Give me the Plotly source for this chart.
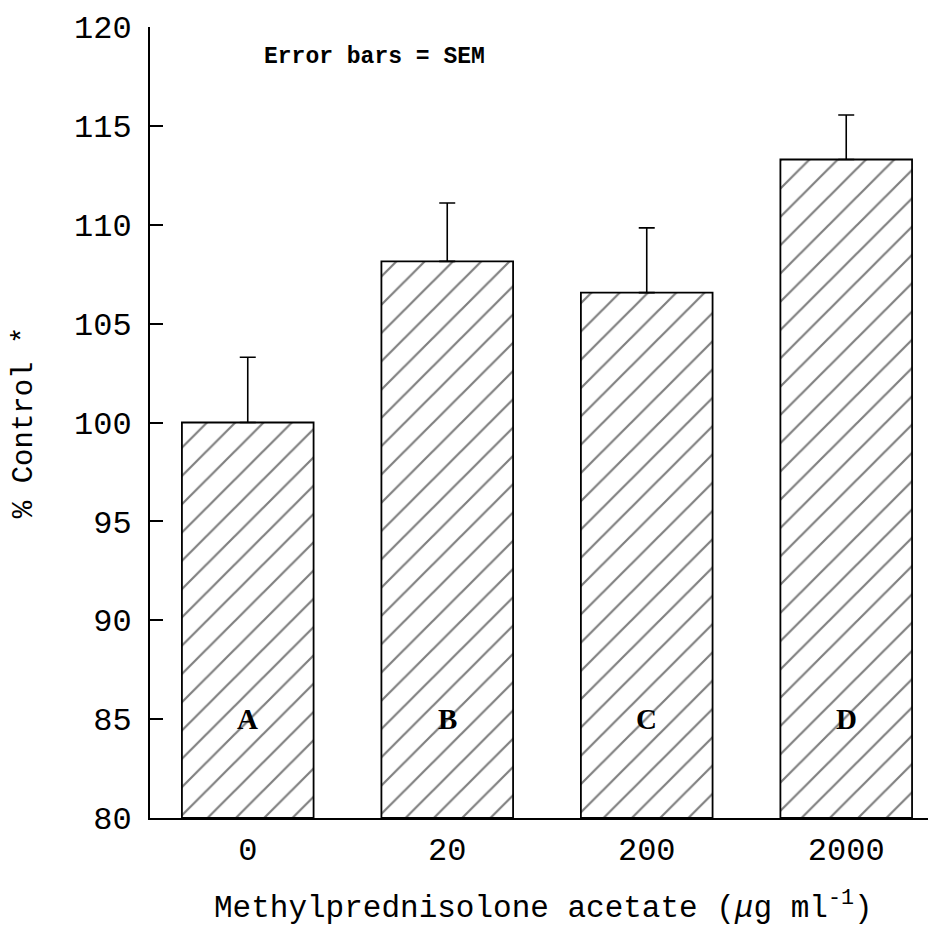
import plotly.graph_objects as go

# data
doses = ["0", "20", "200", "2000"]
group_labels = ["A", "B", "C", "D"]
pct_control = [100.0, 108.15, 106.57, 113.3]
sem = [3.3, 2.95, 3.27, 2.25]

MONO = "Liberation Mono, Courier New, monospace"
SERIF = "Liberation Serif, Times New Roman, serif"

pos = list(range(len(doses)))

fig = go.Figure()

fig.add_trace(go.Bar(
    x=pos,
    y=[v - 80 for v in pct_control],  # bars start at the axis floor (80)
    base=80,
    width=0.66,
    marker=dict(
        color="white",
        line=dict(color="black", width=1.8),
        pattern=dict(shape="/", size=20, solidity=0.11,
                     fgcolor="black", bgcolor="white"),
    ),
    error_y=dict(type="data", symmetric=False, array=sem,
                 arrayminus=[0] * len(sem), color="black",
                 thickness=1.6, width=8),
    showlegend=False,
))

# group letters inside the bars
for p, lab in zip(pos, group_labels):
    fig.add_annotation(x=p, y=85, text="<b>" + lab + "</b>", showarrow=False,
                       font=dict(family=SERIF, size=29, color="black"))

fig.add_annotation(x=0.285, y=0.962, xref="paper", yref="paper",
                   xanchor="center", yanchor="middle",
                   text="<b>Error bars = SEM</b>", showarrow=False,
                   font=dict(family=MONO, size=23, color="black"))

# axis titles as annotations so they sit where the original has them
fig.add_annotation(x=0.5, y=-0.111, xref="paper", yref="paper",
                   xanchor="center", yanchor="middle", showarrow=False,
                   text="Methylprednisolone acetate (<i>μ</i>g ml<sup>-1</sup>)",
                   font=dict(family=MONO, size=31, color="black"))
fig.add_annotation(x=-0.1595, y=0.5, xref="paper", yref="paper",
                   xanchor="center", yanchor="middle", showarrow=False,
                   textangle=-90, text="% Control *",
                   font=dict(family=MONO, size=29, color="black"))

fig.update_xaxes(
    range=[-0.49, 3.45],
    tickvals=pos, ticktext=doses,
    showline=True, linecolor="black", linewidth=1.8,
    ticks="", showgrid=False, zeroline=False, automargin=False,
    ticklabelstandoff=2,
    tickfont=dict(family=MONO, size=32, color="black"),
)
fig.update_yaxes(
    range=[80, 120], dtick=5,
    showline=True, linecolor="black", linewidth=1.8,
    ticks="inside", ticklen=13, tickwidth=1.6, tickcolor="black",
    showgrid=False, zeroline=False, automargin=False,
    ticklabelstandoff=10,
    tickfont=dict(family=MONO, size=32, color="black"),
)

# the page adds an 8px body margin, so margins are trimmed to compensate
fig.update_layout(
    width=936, height=928,
    margin=dict(l=142, r=8, t=19, b=118),
    paper_bgcolor="white", plot_bgcolor="white",
)

fig.write_html("out.html")
